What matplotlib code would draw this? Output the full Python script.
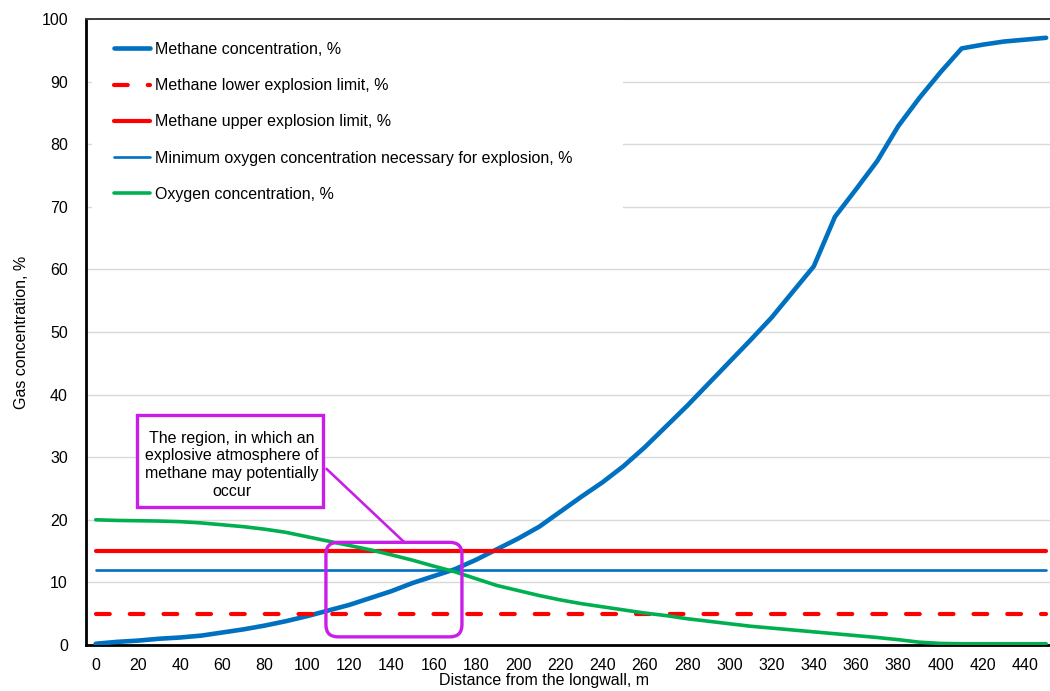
import numpy as np
import matplotlib
matplotlib.use("Agg")
import matplotlib.pyplot as plt
from matplotlib.patches import Rectangle, FancyBboxPatch
from matplotlib.lines import Line2D

plt.rcParams["font.family"] = ["Liberation Sans", "DejaVu Sans"]

# Distance from the longwall, m (sampling step 10 m)
distance = list(range(0, 451, 10))

# Methane concentration, %
methane = [0.2, 0.5, 0.7, 1.0, 1.2, 1.5, 2.0, 2.5, 3.1, 3.8,
           4.6, 5.5, 6.4, 7.5, 8.6, 9.9, 11.0, 12.1, 13.6, 15.3,
           17.0, 18.9, 21.3, 23.7, 26.0, 28.6, 31.6, 34.9, 38.2, 41.7,
           45.2, 48.7, 52.3, 56.4, 60.5, 68.4, 72.8, 77.3, 82.9, 87.4,
           91.5, 95.3, 95.9, 96.4, 96.7, 97.0]

# Oxygen concentration, %
oxygen = [20.0, 19.9, 19.85, 19.8, 19.7, 19.5, 19.2, 18.9, 18.5, 18.0,
          17.3, 16.6, 15.9, 15.2, 14.4, 13.55, 12.6, 11.7, 10.6, 9.5,
          8.7, 7.9, 7.2, 6.6, 6.1, 5.6, 5.1, 4.7, 4.2, 3.8,
          3.4, 3.0, 2.7, 2.4, 2.1, 1.8, 1.5, 1.2, 0.85, 0.45,
          0.25, 0.2, 0.2, 0.2, 0.2, 0.2]

# Explosion limits of methane and oxygen threshold, %
methane_lel = 5.0
methane_uel = 15.0
oxygen_min = 12.0

# Outlined region of a potentially explosive atmosphere (distance, %)
region_x = [109.0, 173.4]
region_y = [1.3, 16.4]

x_ticks = list(range(0, 441, 20))
y_ticks = list(range(0, 101, 10))

BLUE = "#0070C0"
RED = "#FF0000"
GREEN = "#00B050"
PURPLE = "#C81EE8"
FS = 11.5

W, H = 1050, 691
fig = plt.figure(figsize=(W / 100, H / 100), dpi=100)
ax_left, ax_right, ax_bottom, ax_top = 86, 1056.7, 645, 19
ax = fig.add_axes([ax_left / W, 1 - ax_bottom / H,
                   (ax_right - ax_left) / W, (ax_bottom - ax_top) / H])

x = np.array(distance)
ax.plot(x, methane, color=BLUE, lw=3.3, solid_capstyle="round",
        solid_joinstyle="round", zorder=3, label="Methane concentration, %")
ax.plot(x, np.full(len(x), methane_lel), color=RED, lw=3.0,
        dashes=(3.3, 4.8), dash_capstyle="round", zorder=3,
        label="Methane lower explosion limit, %")
ax.plot(x, np.full(len(x), methane_uel), color=RED, lw=3.0, zorder=3,
        solid_capstyle="round", label="Methane upper explosion limit, %")
ax.plot(x, np.full(len(x), oxygen_min), color=BLUE, lw=1.9, zorder=3,
        solid_capstyle="round",
        label="Minimum oxygen concentration necessary for explosion, %")
ax.plot(x, oxygen, color=GREEN, lw=2.6, zorder=3, solid_capstyle="round",
        solid_joinstyle="round", label="Oxygen concentration, %")

ax.set_xlim(-4.6, 455)
ax.set_ylim(0, 100)
ax.set_xticks(x_ticks)
ax.set_yticks(y_ticks)
ax.tick_params(axis="both", length=0, labelsize=FS, colors="#000000")
ax.tick_params(axis="x", pad=9)
ax.tick_params(axis="y", pad=13)
ax.grid(axis="y", color="#D9D9D9", lw=1.0)
ax.set_axisbelow(True)

for side in ("left", "bottom"):
    ax.spines[side].set_linewidth(2.0)
    ax.spines[side].set_color("#000000")
ax.spines["top"].set_linewidth(1.4)
ax.spines["top"].set_color("#3A3A3A")
ax.spines["right"].set_visible(False)

# white panel behind the legend
ax.add_patch(Rectangle(((92 - ax_left) / (ax_right - ax_left), (ax_bottom - 232) / (ax_bottom - ax_top)),
                       (623 - 92) / (ax_right - ax_left), (232 - 20) / (ax_bottom - ax_top),
                       transform=ax.transAxes, facecolor="white", edgecolor="none", zorder=1))

leg = ax.legend(loc="upper left",
                bbox_to_anchor=((114 - ax_left) / (ax_right - ax_left), (ax_bottom - 42) / (ax_bottom - ax_top)),
                frameon=False, fontsize=FS, handlelength=2.25, handletextpad=0.3,
                labelspacing=1.33, borderaxespad=0, borderpad=0)
leg.set_zorder(5)

# annotation: outlined region, callout box and connector
ax.add_patch(FancyBboxPatch((region_x[0], region_y[0]), region_x[1] - region_x[0],
                            region_y[1] - region_y[0],
                            boxstyle="round,pad=0,rounding_size=5.7",
                            mutation_aspect=2.112 / 6.22,
                            facecolor="none", edgecolor=PURPLE, lw=2.4, zorder=6))
ax.add_patch(Rectangle((19.6, 22.0), 107.6 - 19.6, 36.7 - 22.0,
                       facecolor="white", edgecolor=PURPLE, lw=2.4, zorder=6))
ax.text(64.5, 28.8, "The region, in which an\nexplosive atmosphere of\nmethane may potentially\noccur",
        ha="center", va="center", fontsize=11.5, linespacing=1.22, zorder=7)
ax.add_line(Line2D([109.4, 145.5], [28.1, 16.6], color=PURPLE, lw=1.9, zorder=6))

fig.text(544 / W, 1 - 681 / H, "Distance from the longwall, m",
         ha="center", va="center", fontsize=FS)
fig.text(22 / W, 1 - 332 / H, "Gas concentration, %",
         ha="center", va="center", rotation=90, fontsize=FS)

fig.savefig("out.png", dpi=100, facecolor="white")
